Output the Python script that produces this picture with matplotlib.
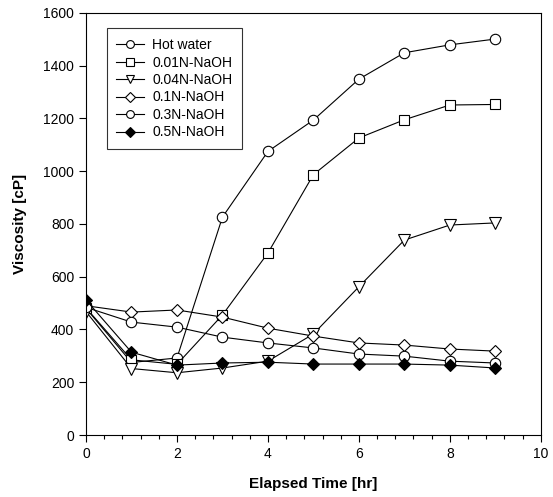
import numpy as np
from matplotlib import pyplot as plt
from matplotlib.ticker import MultipleLocator

plt.rcParams['font.family'] = ['Liberation Sans', 'DejaVu Sans']

hours = [0, 1, 2, 3, 4, 5, 6, 7, 8, 9]
hotWater = [480, 275, 292, 826, 1075, 1194, 1349, 1449, 1479, 1501]
naoh001 = [482, 285, 268, 455, 690, 987, 1126, 1195, 1251, 1253]
naoh004 = [468, 252, 236, 254, 280, 383, 562, 739, 796, 804]
naoh01 = [490, 466, 474, 447, 405, 375, 349, 341, 326, 318]
naoh03 = [484, 428, 409, 371, 349, 330, 307, 299, 280, 273]
naoh05 = [512, 314, 265, 273, 276, 269, 269, 269, 265, 254]

labels = ['Hot water', '0.01N-NaOH', '0.04N-NaOH', '0.1N-NaOH', '0.3N-NaOH', '0.5N-NaOH']
series = [hotWater, naoh001, naoh004, naoh01, naoh03, naoh05]
markers = ['o', 's', 'v', 'D', 'o', 'D']
faces = ['white', 'white', 'white', 'white', 'white', 'black']
sizes = [7.5, 7, 8, 6.5, 7.5, 6.5]

fig = plt.figure(figsize=(5.53, 4.97), dpi=100)
ax = fig.add_axes([0.1555, 0.1247, 0.8225, 0.8493])

for values, label, marker, face, size in zip(series, labels, markers, faces, sizes):
    ax.plot(hours, values, color='black', linewidth=0.8, marker=marker, markersize=size,
            markerfacecolor=face, markeredgecolor='black', markeredgewidth=0.8, label=label)

ax.set_xlim(0, 10)
ax.set_ylim(0, 1600)
ax.xaxis.set_major_locator(MultipleLocator(2))
ax.xaxis.set_minor_locator(MultipleLocator(0.4))
ax.yaxis.set_major_locator(MultipleLocator(200))
ax.tick_params(which='both', direction='out', labelsize=10, width=0.8)
ax.tick_params(which='major', length=5)
ax.tick_params(which='minor', length=3)
ax.tick_params(axis='y', which='minor', left=False)
for spine in ax.spines.values():
    spine.set_linewidth(0.8)

ax.set_xlabel('Elapsed Time [hr]', fontsize=11, fontweight='bold', labelpad=12)
ax.set_ylabel('Viscosity [cP]', fontsize=11, fontweight='bold', labelpad=12)

leg = ax.legend(loc='upper left', bbox_to_anchor=(0.03, 0.98), fontsize=10, frameon=True,
                fancybox=False, edgecolor='black', handlelength=2.0, labelspacing=0.25,
                borderpad=0.7, handletextpad=0.6, markerscale=0.75)
leg.get_frame().set_linewidth(0.8)

plt.savefig('out.png', dpi=100)
